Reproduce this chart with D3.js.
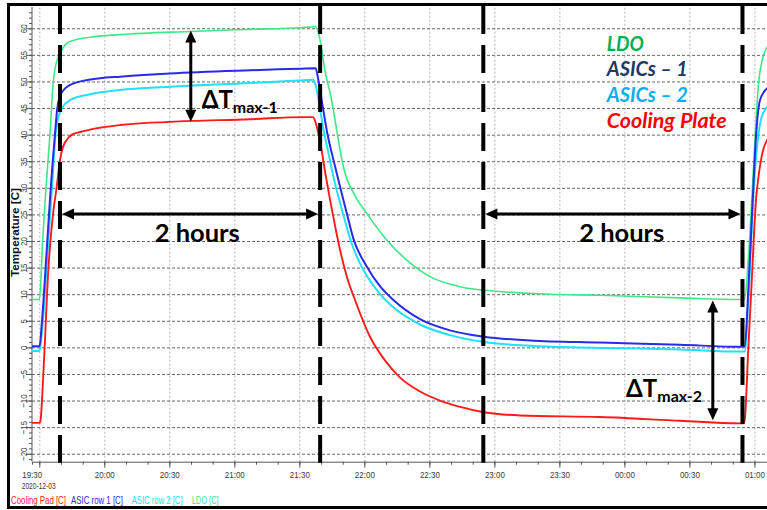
<!DOCTYPE html>
<html><head><meta charset="utf-8">
<script src="https://cdn.jsdelivr.net/npm/d3@7"></script>
<style>
body{margin:0;background:#fff}
svg{display:block}
.tick text{font-family:"Liberation Sans",Arial,sans-serif;font-size:9.5px;fill:#3a3a3a}
</style>
</head><body>
<svg id="c" width="767" height="510"></svg>
<script>
// ---------------- DATA (minutes after 19:30 on 2020-12-03, temperature in °C) ----------------
const ldoTime  = [-3.4,0.1,1.57,3.09,4.94,6.46,7.71,9.55,10.94,12.78,16.48,23.4,37.25,69.55,97.25,120.3,127.2,128.6,129.55,131.85,134.95,137.6,140.3,145.7,151.1,160.3,169.6,180.3,194.2,212.6,235.7,258.8,295.7,323.4,325.5,327.1,328.8,330.4,331.9,333.6,335.9,337.2];
const ldoTemp  = [9.0,9.0,20.2,30,40.2,50,53.3,55.2,56.3,57.2,57.8,58.3,58.8,59.4,59.8,60.1,60.3,59.5,57.8,52,46.4,40,34,28.5,25.2,20.2,16.4,13.3,11.4,10.5,10.0,9.8,9.3,9.0,9.1,16,27.7,40,49.6,54,56.5,57];

const asic1Time = [-3.4,0.1,1.25,3.42,4.94,7.25,8.31,9.55,11.08,15.69,28.0,37.25,60.3,97.25,120.3,127.5,128.9,130.5,132.8,136.5,141.9,144.9,151.1,157.2,163.4,175.7,189.5,205.2,226.5,258.8,295.7,323.4,325.5,327.1,328.9,330.8,332.6,335.9,337.2];
const asic1Temp = [0.2,0.2,5,18.3,28,40.2,45,47.3,48.3,49.6,50.6,50.9,51.5,52.1,52.4,52.5,50,46,40.5,34,25.2,20.5,15.2,11.5,8.9,5.3,3.2,2.0,1.3,0.9,0.5,0.1,0.2,10,25,40,46.5,48.7,49];

const asic2Time = [-3.4,0.1,1.25,3.88,5.86,7.48,8.63,10.48,14.17,23.4,37.25,60.3,97.25,120.3,126.3,127.7,129.1,130.9,133.2,135.5,140.6,143.9,149.9,156.3,162.3,175.7,189.5,205.2,226.5,258.8,295.7,323.4,325.5,327.6,329.4,331.3,333.1,335.9,337.2];
const asic2Temp = [-0.7,-0.7,3,18.3,30,40,43,45,46.5,47.6,48.4,49.0,49.7,50.2,50.3,49,46,41.5,37,32.5,24.5,19.8,14.3,10.5,7.9,4.3,2.3,1.0,0.3,-0.1,-0.4,-0.8,-0.8,12,28,38,43,45.2,45.5];

const coolTime = [-3.4,0.3,0.78,1.25,2.63,4.15,4.94,6.32,8.03,9.55,10.94,12.65,15.09,18.78,28.0,37.25,60.3,97.25,121.7,126.3,127.7,130.3,132.3,134.2,136.5,138.8,142.0,145.7,152.6,159.6,166.5,175.7,184.9,194.2,205.2,221.9,258.8,295.7,323.4,325.2,325.7,327.1,328.8,329.9,330.8,331.7,333.4,335.9,337.2];
const coolTemp = [-14.2,-14.2,-13,-10,1.5,14.5,19,25,30.2,35.2,37.7,39,40,40.5,41.3,41.8,42.4,42.9,43.3,43.3,42,37,32,27.7,22.8,18.3,13.2,8.9,2.0,-2.5,-5.7,-8.3,-10,-11.2,-12.2,-12.8,-13.1,-13.8,-14.3,-14.3,-13,-1,12.7,22,28,31.5,36,39,39.5];

const seriesNames  = ["Cooling Pad [C]", "ASIC row 1 [C]", "ASIC row 2 [C]", "LDO [C]"];
const calloutNames = ["LDO", "ASICs \u2013 1", "ASICs \u2013 2", "Cooling Plate"];
const yTickValues  = [-20,-15,-10,-5,0,5,10,15,20,25,30,35,40,45,50,55,60];
const markerTimes  = [9.55, 129.6, 204.9, 324.5];   // heavy dashed vertical lines
const dateLabel    = "2020-12-03";
const yTitle       = "Temperature [C]";

// ---------------- STYLE ----------------
const seriesColors  = ["#ff1a1a", "#2a2ae8", "#22e0ff", "#3ee886"];
const seriesWidths  = [1.9, 2, 2, 1.6];
const calloutColors = ["#00b050", "#1f3864", "#00b0f0", "#ff0000"];
const calloutLens   = [37, 81, 81, 120];
const legendLens    = [55, 52, 51, 27];
const narrowFont    = '"Liberation Sans",Arial,sans-serif';

const base = new Date(2020, 11, 3, 19, 30, 0);
const T = m => new Date(base.getTime() + m * 60000);

const svg = d3.select("#c");
const L = 32, R = 770, TOP = 7, BOT = 461.7;
const x = d3.scaleTime().domain([T(-3.37), T(337.2)]).range([L, R]);
const y = d3.scaleLinear().domain([-21.5, 64]).range([BOT, TOP]);

// squeeze a text horizontally to a target width (narrow-font look)
function fitTo(sel, px, py, target, extra){
  sel.attr("x",0).attr("y",0);
  const w = sel.node().getComputedTextLength();
  sel.attr("transform",`translate(${px},${py})${extra||""} scale(${target/w},1)`);
}

svg.append("defs").append("clipPath").attr("id","clip")
  .append("rect").attr("x",L).attr("y",TOP).attr("width",767-L).attr("height",BOT-TOP);

// gridlines
const gx = svg.append("g").attr("transform",`translate(0,${BOT})`)
  .call(d3.axisBottom(x).ticks(d3.timeMinute.every(30)).tickSize(-(BOT-TOP)).tickFormat(""));
gx.select(".domain").remove();
gx.selectAll("line").attr("stroke","#b5b5b5").attr("stroke-dasharray","2,2");
const gy = svg.append("g").attr("transform",`translate(${L},0)`)
  .call(d3.axisLeft(y).tickValues(yTickValues).tickSize(-(R-L)).tickFormat(""));
gy.select(".domain").remove();
gy.selectAll("line").attr("stroke","#666").attr("stroke-dasharray","3,2");

// axes
const xMinor = svg.append("g").attr("transform",`translate(0,${BOT})`)
  .call(d3.axisBottom(x).ticks(d3.timeMinute.every(10)).tickSize(3).tickFormat(""));
xMinor.selectAll("line").attr("stroke","#555");
xMinor.select(".domain").attr("stroke","#555");
const xAx = svg.append("g").attr("transform",`translate(0,${BOT})`)
  .call(d3.axisBottom(x).ticks(d3.timeMinute.every(30)).tickFormat(d3.timeFormat("%H:%M")).tickSize(6).tickPadding(4));
xAx.select(".domain").remove();
xAx.selectAll("line").attr("stroke","#555");
xAx.selectAll("text").attr("transform","scale(0.84,1)");
xAx.selectAll("text").filter((d,i)=>i===0).attr("text-anchor","start").attr("x",-17.6/0.84);

const yMinor = svg.append("g").attr("transform",`translate(${L},0)`)
  .call(d3.axisLeft(y).tickValues(d3.range(-21, 64, 1)).tickSize(3).tickFormat(""));
yMinor.selectAll("line").attr("stroke","#555");
yMinor.select(".domain").attr("stroke","#555").attr("d",`M0,${TOP}V${BOT}`);
const yAx = svg.append("g").attr("transform",`translate(${L},0)`)
  .call(d3.axisLeft(y).tickValues(yTickValues).tickSize(6));
yAx.select(".domain").remove();
yAx.selectAll("line").attr("stroke","#555");
yAx.selectAll("text").attr("x",null).attr("dy",null).attr("y",0)
  .attr("text-anchor","middle").attr("transform","translate(-5.5,0) rotate(-90) scale(0.84,1)");

const dt = svg.append("text").style("font-family",narrowFont)
  .style("font-size","9.5px").attr("fill","#3a3a3a").text(dateLabel);
fitTo(dt, 21.7, 488.5, 34);

const yt = svg.append("text").attr("text-anchor","middle").style("font-family",narrowFont)
  .style("font-weight","bold").style("font-size","10px").attr("fill","#111").text(yTitle);
fitTo(yt, 19, 232.5, 89, " rotate(-90)");

// data lines
const series = [
  {t: coolTime, v: coolTemp},
  {t: asic1Time, v: asic1Temp},
  {t: asic2Time, v: asic2Temp},
  {t: ldoTime, v: ldoTemp}
];
const line = d3.line().x(d => x(T(d[0]))).y(d => y(d[1])).curve(d3.curveMonotoneX);
const drawOrder = [3, 2, 1, 0];
const gl = svg.append("g").attr("clip-path","url(#clip)");
drawOrder.forEach(i => {
  const s = series[i];
  gl.append("path").datum(s.t.map((t,k)=>[t, s.v[k]]))
    .attr("d", line).attr("fill","none")
    .attr("stroke", seriesColors[i]).attr("stroke-width", seriesWidths[i])
    .attr("stroke-linejoin","round");
});

// heavy dashed verticals
svg.append("g").selectAll("line").data(markerTimes).join("line")
  .attr("x1", d => x(T(d))).attr("x2", d => x(T(d)))
  .attr("y1", 6).attr("y2", BOT + 1)
  .attr("stroke","#000").attr("stroke-width",4).attr("stroke-dasharray","28,11");

// arrows
function arrow(x1,y1,x2,y2){
  const g = svg.append("g");
  const ang = Math.atan2(y2-y1, x2-x1), hl = 12, hw = 5.5;
  const ux = Math.cos(ang), uy = Math.sin(ang);
  g.append("line").attr("x1",x1+ux*hl*0.8).attr("y1",y1+uy*hl*0.8)
    .attr("x2",x2-ux*hl*0.8).attr("y2",y2-uy*hl*0.8)
    .attr("stroke","#000").attr("stroke-width",3);
  const head = (tx,ty,dx,dy) => {
    const bx = tx - dx*hl, by = ty - dy*hl;
    g.append("path").attr("d",`M${tx},${ty}L${bx - dy*hw},${by + dx*hw}L${bx + dy*hw},${by - dx*hw}Z`).attr("fill","#000");
  };
  head(x2,y2,ux,uy);
  head(x1,y1,-ux,-uy);
}
const aY = y(25.1);
arrow(x(T(markerTimes[0]))+2, aY, x(T(markerTimes[1]))-2, aY);
arrow(x(T(markerTimes[2]))+2, aY, x(T(markerTimes[3]))-2, aY);
arrow(x(T(69.9)), y(59.6), x(T(69.9)), y(42.4));
arrow(x(T(310.8)), y(8.8), x(T(310.8)), y(-13.7));

const annFont = "Lato, 'Open Sans', sans-serif";
svg.append("text").attr("x", x(T(72.9))).attr("y", y(19.9)).attr("text-anchor","middle")
  .style("font-family",annFont).style("font-weight","bold").style("font-size","25.5px").text("2 hours");
svg.append("text").attr("x", x(T(268.8))).attr("y", y(19.9)).attr("text-anchor","middle")
  .style("font-family",annFont).style("font-weight","bold").style("font-size","25.5px").text("2 hours");

function deltaT(tm, val, sub){
  const t = svg.append("text").attr("x", x(T(tm))).attr("y", y(val))
    .style("font-family",annFont).style("font-weight","bold").style("font-size","24px");
  t.append("tspan").text("\u0394T");
  t.append("tspan").attr("dy",5).style("font-size","16px").text(sub);
}
deltaT(74.95, 45.1, "max-1");
deltaT(270.8, -9.35, "max-2");

// callout legend (top right)
const cY = [50.7, 76, 102, 128];
svg.append("g").selectAll("text").data(calloutNames).join("text")
  .style("font-family",annFont).style("font-weight","bold").style("font-style","italic")
  .style("font-size","20px").attr("fill",(d,i)=>calloutColors[i]).text(d => d)
  .each(function(d,i){ fitTo(d3.select(this), x(T(261.9)), cY[i], calloutLens[i]); });

// bottom legend
const lgX = [11, 71, 131.7, 191.7];
svg.append("g").selectAll("text").data(seriesNames).join("text")
  .style("font-family",narrowFont)
  .style("font-size","10px").attr("fill",(d,i)=>seriesColors[i]).text(d=>d)
  .each(function(d,i){ fitTo(d3.select(this), lgX[i], 503.5, legendLens[i]); });

// frame
svg.append("rect").attr("x",8.5).attr("y",4.5).attr("width",770).attr("height",503)
  .attr("fill","none").attr("stroke","#000").attr("stroke-width",3);
</script>
</body></html>
